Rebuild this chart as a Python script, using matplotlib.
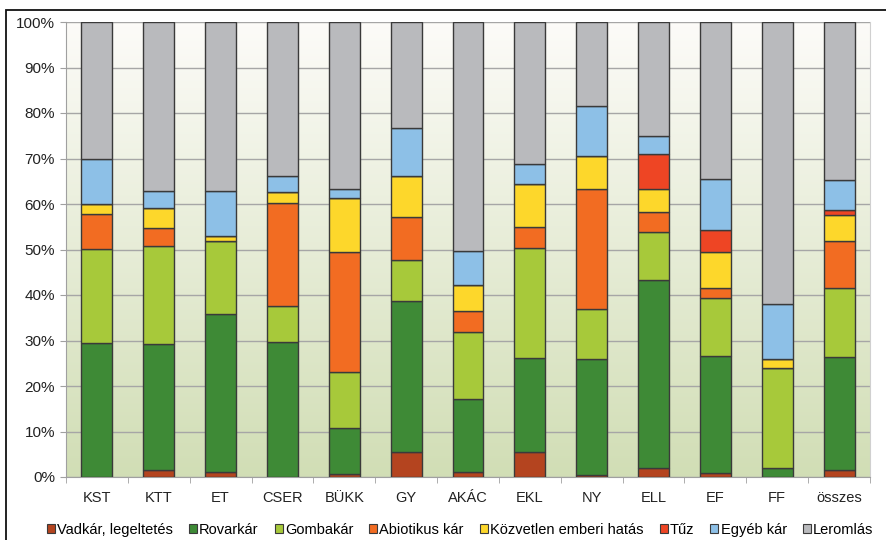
import matplotlib
matplotlib.use("Agg")
import matplotlib.pyplot as plt
from matplotlib.patches import Patch, Rectangle
import numpy as np

# Kategóriák (erdőtípusok) és a kárkategóriák százalékos megoszlása
kategoriak = ["KST", "KTT", "ET", "CSER", "BÜKK", "GY", "AKÁC",
              "EKL", "NY", "ELL", "EF", "FF", "összes"]

vadkar     = [0.0, 1.5, 1.2, 0.0, 0.7, 5.5, 1.2, 5.5, 0.4, 1.9, 0.8, 0.0, 1.5]
rovarkar   = [29.4, 27.7, 34.6, 29.7, 10.0, 33.2, 15.9, 20.6, 25.5, 41.4, 25.9, 1.9, 24.9]
gombakar   = [20.8, 21.6, 16.0, 7.9, 12.3, 9.0, 14.7, 24.3, 11.0, 10.6, 12.7, 22.0, 15.1]
abiotikus  = [7.5, 3.9, 0.0, 22.6, 26.4, 9.5, 4.7, 4.6, 26.5, 4.4, 2.1, 0.0, 10.4]
kozvetlen  = [2.4, 4.4, 1.2, 2.4, 12.0, 9.0, 5.7, 9.4, 7.2, 5.1, 7.9, 2.0, 5.7]
tuz        = [0.0, 0.0, 0.0, 0.0, 0.0, 0.0, 0.0, 0.0, 0.0, 7.6, 4.9, 0.0, 1.1]
egyeb      = [9.9, 3.8, 9.9, 3.6, 1.8, 10.6, 7.5, 4.5, 10.9, 3.9, 11.3, 12.1, 6.6]
leromlas   = [30.0, 37.1, 37.1, 33.8, 36.8, 23.2, 50.3, 31.1, 18.5, 25.1, 34.4, 62.0, 34.7]

sorozat_nevek = ["Vadkár, legeltetés", "Rovarkár", "Gombakár", "Abiotikus kár",
                 "Közvetlen emberi hatás", "Tűz", "Egyéb kár", "Leromlás"]
sorozatok = [vadkar, rovarkar, gombakar, abiotikus, kozvetlen, tuz, egyeb, leromlas]
szinek = ["#b4441f", "#3e8a36", "#a7c93a", "#f26c22",
          "#fdd72b", "#ee4524", "#8dc0e7", "#b9babd"]

plt.rcParams["font.family"] = ["Liberation Sans", "DejaVu Sans"]

fig = plt.figure(figsize=(8.87, 5.40), dpi=100)
ax = fig.add_axes([66 / 887, 1 - 477 / 540, (870 - 66) / 887, (477 - 22) / 540])

# háttér: fehérből halványzöldbe futó színátmenet
n = len(kategoriak)
grad = np.linspace(0, 1, 256).reshape(-1, 1)
felso = np.array([0.99, 0.985, 0.975])
also = np.array([0.82, 0.87, 0.71])
kep = felso + (also - felso) * grad[:, :, None]
ax.imshow(kep, extent=[-0.5, n - 0.5, 0, 100], aspect="auto", origin="upper", zorder=0)

x = np.arange(n)
alap = np.zeros(n)
for nev, ertek, szin in zip(sorozat_nevek, sorozatok, szinek):
    ertek = np.array(ertek)
    ax.bar(x, ertek, bottom=alap, width=0.5, color=szin,
           edgecolor="#3a3a3a", linewidth=1.0, zorder=3)
    alap += ertek

ax.set_xlim(-0.5, n - 0.5)
ax.set_ylim(0, 100)
ax.set_yticks(np.arange(0, 101, 10))
ax.set_yticklabels([f"{v}%" for v in range(0, 101, 10)], fontsize=11, color="#222222")
ax.yaxis.grid(True, color="#a6a6a6", linewidth=1.0, zorder=1)
ax.set_axisbelow(True)

ax.set_xticks(x)
ax.set_xticklabels(kategoriak, fontsize=10.5, color="#222222")
ax.set_xticks(np.arange(-0.5, n, 1), minor=True)
ax.tick_params(axis="x", which="major", length=0, pad=10)
ax.tick_params(axis="x", which="minor", length=4, color="#a0a0a0", direction="out")
ax.tick_params(axis="y", length=4, color="#a0a0a0", direction="out", pad=4)

for s in ["left", "bottom"]:
    ax.spines[s].set_color("#a0a0a0")
ax.spines["right"].set_color("#d0d0d0")
ax.spines["top"].set_visible(False)

kezelok = [Patch(facecolor=c, edgecolor="#3a3a3a", linewidth=0.8) for c in szinek]
fig.legend(kezelok, sorozat_nevek, loc="center", bbox_to_anchor=(460 / 887, 1 - 530 / 540),
           ncol=8, frameon=False, fontsize=10.5, handlelength=0.55, handleheight=0.55,
           handletextpad=0.15, columnspacing=1.1, borderpad=0)

# fekete keret a teljes ábra körül
fig.add_artist(Rectangle((6 / 887, -0.05), 1.0, 1 - 10 / 540 + 0.05,
                         transform=fig.transFigure, fill=False,
                         edgecolor="#111111", linewidth=1.3))

fig.savefig("out.png", dpi=100)
